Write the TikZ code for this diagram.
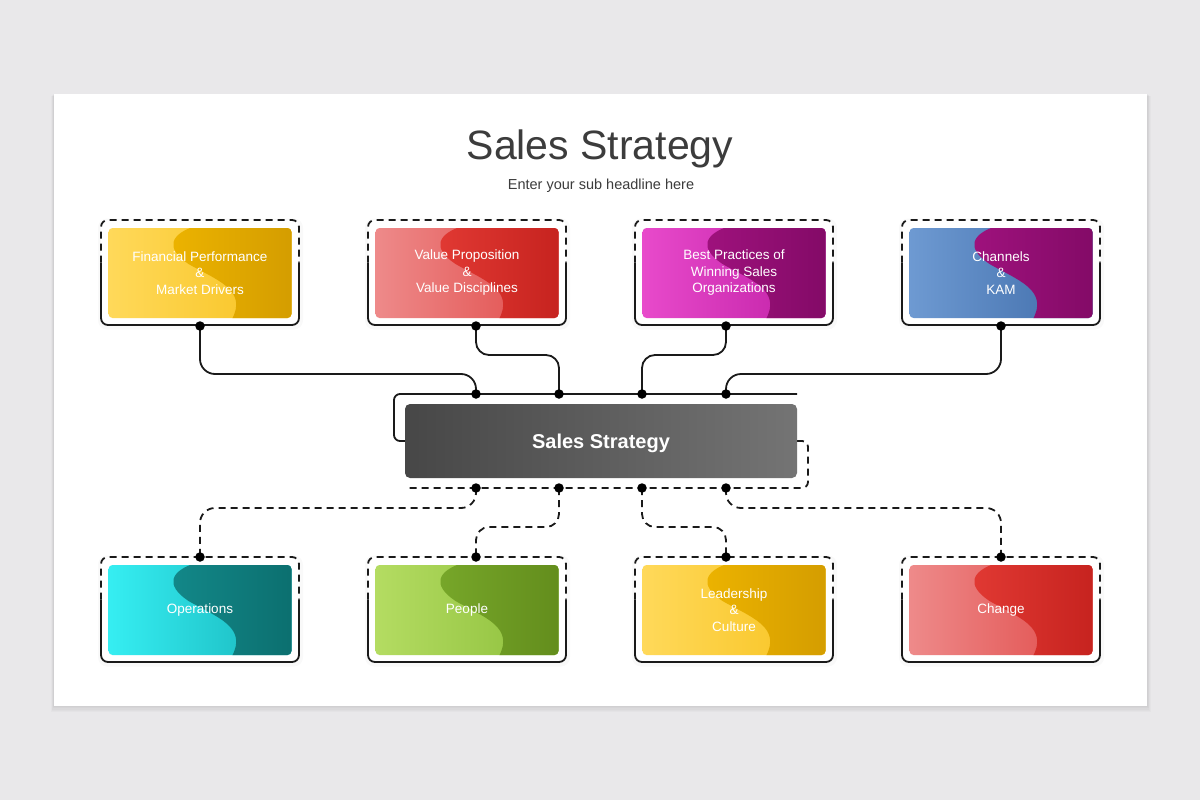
\documentclass[tikz,border=0pt]{standalone}
\usepackage{fontspec}
\setmainfont{Liberation Sans}
\usetikzlibrary{calc}
\definecolor{canvas}{HTML}{E9E8EA}
\definecolor{titlegray}{HTML}{3C3C3C}
\definecolor{ylL}{HTML}{FFD95A}\definecolor{ydL}{HTML}{F7C21E}
\definecolor{ylR}{HTML}{EDB400}\definecolor{ydR}{HTML}{D39C00}
\definecolor{rlL}{HTML}{EE8A8A}\definecolor{rdL}{HTML}{E04A48}
\definecolor{rlR}{HTML}{E23A34}\definecolor{rdR}{HTML}{C5221E}
\definecolor{mlL}{HTML}{E84ACB}\definecolor{mdL}{HTML}{BE1EA4}
\definecolor{mlR}{HTML}{A0127E}\definecolor{mdR}{HTML}{820A66}
\definecolor{blL}{HTML}{6E9AD2}\definecolor{bdL}{HTML}{3E6BA8}
\definecolor{clL}{HTML}{36EEF2}\definecolor{cdL}{HTML}{17B4BA}
\definecolor{clR}{HTML}{13898A}\definecolor{cdR}{HTML}{0B6E6E}
\definecolor{glL}{HTML}{B4DC62}\definecolor{gdL}{HTML}{8CBE3A}
\definecolor{glR}{HTML}{78A82A}\definecolor{gdR}{HTML}{628C1C}
\definecolor{ssL}{HTML}{474747}\definecolor{ssR}{HTML}{747474}
\definecolor{linec}{HTML}{1A1A1A}

\tikzset{
  conn/.style={line width=1.8pt, draw=linec, rounded corners=15pt},
  dconn/.style={conn, dash pattern=on 7pt off 5pt},
  dotm/.style={circle, fill=black, inner sep=0pt, minimum size=9.5pt},
  framesolid/.style={line width=1.8pt, draw=linec, rounded corners=7pt},
  framedash/.style={framesolid, dash pattern=on 7pt off 5pt},
  cardlabel/.style={text=white, font=\fontsize{13.5}{16.5}\selectfont, align=center, inner sep=0pt},
}

% name cx cy leftLight leftDark rightLight rightDark text
\newcommand{\cardbox}[8]{%
  \begin{scope}
    \clip[rounded corners=4pt] (#2-91.5,#3-45) rectangle (#2+91.5,#3+45);
    \shade[left color=#4, right color=#5] (#2-92,#3-46) rectangle (#2+92,#3+46);
    \shade[left color=#6, right color=#7] (#2-4.5,#3-47)
      .. controls (#2-29.5,#3-39) and (#2-35.5,#3-25) .. (#2-11.5,#3-9)
      .. controls (#2+16.5,#3+7) and (#2+48.5,#3+17) .. (#2+31.5,#3+47)
      -- (#2+98.5,#3+47) -- (#2+98.5,#3-47) -- cycle;
  \end{scope}
  \node[cardlabel] (#1) at (#2,#3) {#8};
}
% cx cy (outer frame)
\newcommand{\cardframe}[2]{%
  \fill[black, opacity=0.025, rounded corners=9pt] (#1-102,#2-54) rectangle (#1+103,#2+57);
  \fill[white, rounded corners=7pt] (#1-99,#2-52.5) rectangle (#1+99,#2+52.5);
  \draw[framesolid] (#1-99,#2-10) -- (#1-99,#2+52.5) -- (#1+99,#2+52.5) -- (#1+99,#2-10);
  \draw[framedash] (#1-99,#2-10) -- (#1-99,#2-52.5) -- (#1+99,#2-52.5) -- (#1+99,#2-10);
}

\begin{document}
\begin{tikzpicture}[x=1pt,y=-1pt]
\useasboundingbox (0,0) rectangle (1200,800);
\fill[canvas] (0,0) rectangle (1200,800);
% slide with soft shadow
\foreach \i in {1,...,5}{
  \fill[black, opacity=0.02] (54-\i*0.6,94+\i*0.4) rectangle (1147+\i*0.8,706+\i*1.2);
}
\fill[white] (54,94) rectangle (1147,706);

% titles
\node[anchor=base, text=titlegray, font=\fontsize{41}{49}\selectfont] (title) at (600,159) {Sales Strategy};
\node[anchor=base, text=titlegray, font=\fontsize{14.5}{17}\selectfont] (subtitle) at (601,189) {Enter your sub headline here};

% connector coordinates
\coordinate (t1) at (200,326); \coordinate (t2) at (476,326);
\coordinate (t3) at (726,326); \coordinate (t4) at (1001,326);
\coordinate (c1) at (476,394); \coordinate (c2) at (559,394);
\coordinate (c3) at (642,394); \coordinate (c4) at (726,394);
\coordinate (d1) at (476,488); \coordinate (d2) at (559,488);
\coordinate (d3) at (642,488); \coordinate (d4) at (726,488);
\coordinate (b1) at (200,557); \coordinate (b2) at (476,557);
\coordinate (b3) at (726,557); \coordinate (b4) at (1001,557);
\coordinate (h1) at (0,374); \coordinate (h2) at (0,355);
\coordinate (h3) at (0,508); \coordinate (h4) at (0,527);

% frames
\cardframe{200}{272.5}\cardframe{467}{272.5}\cardframe{734}{272.5}\cardframe{1001}{272.5}
\cardframe{200}{609.5}\cardframe{467}{609.5}\cardframe{734}{609.5}\cardframe{1001}{609.5}

% center frame
\draw[framesolid, rounded corners=6pt] (405,441) -- (394,441) -- (394,394) -- (797,394);
\draw[framedash, rounded corners=6pt] (797,441) -- (808,441) -- (808,488) -- (405,488);

% top connectors
\draw[conn] (t1) -- (t1 |- h1) -- (c1 |- h1) -- (c1);
\draw[conn, rounded corners=13pt] (t2) -- (t2 |- h2) -- (c2 |- h2) -- (c2);
\draw[conn, rounded corners=13pt] (t3) -- (t3 |- h2) -- (c3 |- h2) -- (c3);
\draw[conn] (t4) -- (t4 |- h1) -- (c4 |- h1) -- (c4);
% bottom connectors
\draw[dconn] (d1) -- (d1 |- h3) -- (b1 |- h3) -- (b1);
\draw[dconn, rounded corners=13pt] (d2) -- (d2 |- h4) -- (b2 |- h4) -- (b2);
\draw[dconn, rounded corners=13pt] (d3) -- (d3 |- h4) -- (b3 |- h4) -- (b3);
\draw[dconn] (d4) -- (d4 |- h3) -- (b4 |- h3) -- (b4);

% center box
\shade[left color=ssL, right color=ssR, rounded corners=5pt] (405,404) rectangle (797,478);
\node[anchor=base, text=white, font=\bfseries\fontsize{20}{24}\selectfont] (center) at (601,448) {Sales Strategy};

% cards
\cardbox{fin}{200}{273}{ylL}{ydL}{ylR}{ydR}{Financial Performance\\\&\\Market Drivers}
\cardbox{val}{467}{273}{rlL}{rdL}{rlR}{rdR}{Value Proposition\\\&\\Value Disciplines}
\cardbox{best}{734}{273}{mlL}{mdL}{mlR}{mdR}{Best Practices of\\Winning Sales\\Organizations}
\cardbox{chan}{1001}{273}{blL}{bdL}{mlR}{mdR}{Channels\\\&\\KAM}
\cardbox{ops}{200}{610}{clL}{cdL}{clR}{cdR}{Operations}
\cardbox{peo}{467}{610}{glL}{gdL}{glR}{gdR}{People}
\cardbox{lead}{734}{610}{ylL}{ydL}{ylR}{ydR}{Leadership\\\&\\Culture}
\cardbox{chg}{1001}{610}{rlL}{rdL}{rlR}{rdR}{Change}

% dots
\foreach \p in {t1,t2,t3,t4,c1,c2,c3,c4,d1,d2,d3,d4,b1,b2,b3,b4}{
  \node[dotm] at (\p) {};
}
\end{tikzpicture}
\end{document}
